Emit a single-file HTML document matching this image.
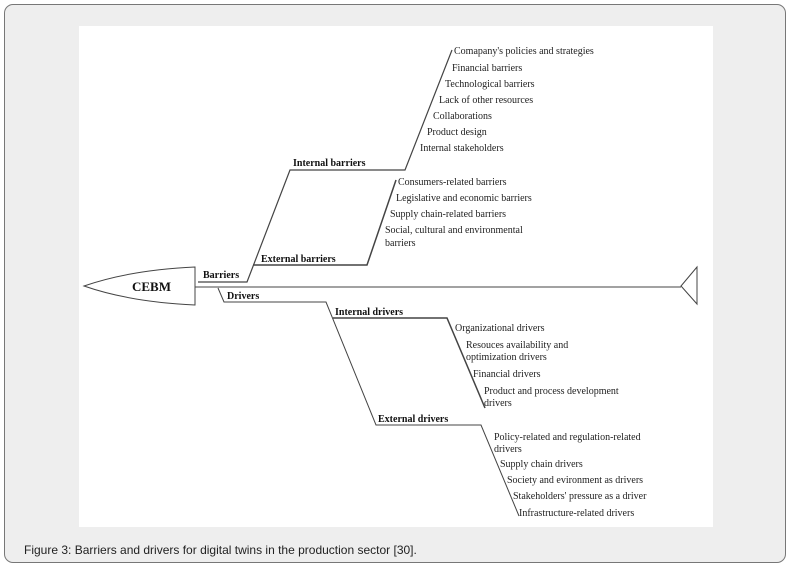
<!DOCTYPE html>
<html><head><meta charset="utf-8"><style>
body{margin:0;width:793px;height:567px;background:#fff;overflow:hidden;font-family:"Liberation Serif",serif}
.frame{position:absolute;left:4px;top:4px;width:780px;height:557px;border:1.5px solid #777;border-radius:9px;background:#eee}
.white{position:absolute;left:79px;top:26px;width:634px;height:501px;background:#fff}
.cap{position:absolute;left:24px;top:543px;font:12px "Liberation Sans",sans-serif;color:#222}
svg{position:absolute;left:0;top:0}
text{font-family:"Liberation Serif",serif;font-size:10px;fill:#222}
.b{font-weight:bold;fill:#111}
</style></head><body>
<div class="frame"></div><div class="white"></div>
<div class="cap">Figure 3: Barriers and drivers for digital twins in the production sector [30].</div>
<svg width="793" height="567">
<g stroke="#444" fill="none" stroke-width="1">
<path d="M195,267 Q130,270 84,286 Q130,302 195,305 Z"/>
<line x1="195" y1="287" x2="681" y2="287"/>
<path d="M697,267 L681,286 L697,304 Z"/>
<path d="M198,282 L247,282 L290,170 L405,170 L452,50" stroke-width="1.2"/>
<path d="M253,265 L367,265 L396,180" stroke-width="1.5"/>
<path d="M218,288 L224,302 L326,302 L376,425 L481,425 L519,516"/>
<path d="M333,318 L447,318 L485,408" stroke-width="1.5"/>
</g>
<text x="132" y="291" class="b" style="font-size:13px">CEBM</text>
<text x="203" y="278" class="b">Barriers</text>
<text x="227" y="299" class="b">Drivers</text>
<text x="293" y="166" class="b">Internal barriers</text>
<text x="261" y="262" class="b">External barriers</text>
<text x="335" y="315" class="b">Internal drivers</text>
<text x="378" y="422" class="b">External drivers</text>
<text x="454" y="54">Comapany's policies and strategies</text>
<text x="452" y="71">Financial barriers</text>
<text x="445" y="87">Technological barriers</text>
<text x="439" y="103">Lack of other resources</text>
<text x="433" y="119">Collaborations</text>
<text x="427" y="135">Product design</text>
<text x="420" y="151">Internal stakeholders</text>
<text x="398" y="185">Consumers-related barriers</text>
<text x="396" y="201">Legislative and economic barriers</text>
<text x="390" y="217">Supply chain-related barriers</text>
<text x="385" y="233">Social, cultural and environmental</text>
<text x="385" y="246">barriers</text>
<text x="455" y="331">Organizational drivers</text>
<text x="466" y="348">Resouces availability and</text>
<text x="466" y="360">optimization drivers</text>
<text x="473" y="377">Financial drivers</text>
<text x="484" y="394">Product and process development</text>
<text x="484" y="406">drivers</text>
<text x="494" y="440">Policy-related and regulation-related</text>
<text x="494" y="452">drivers</text>
<text x="500" y="467">Supply chain drivers</text>
<text x="507" y="483">Society and evironment as drivers</text>
<text x="513" y="499">Stakeholders' pressure as a driver</text>
<text x="519" y="516">Infrastructure-related drivers</text>
</svg>
</body></html>
